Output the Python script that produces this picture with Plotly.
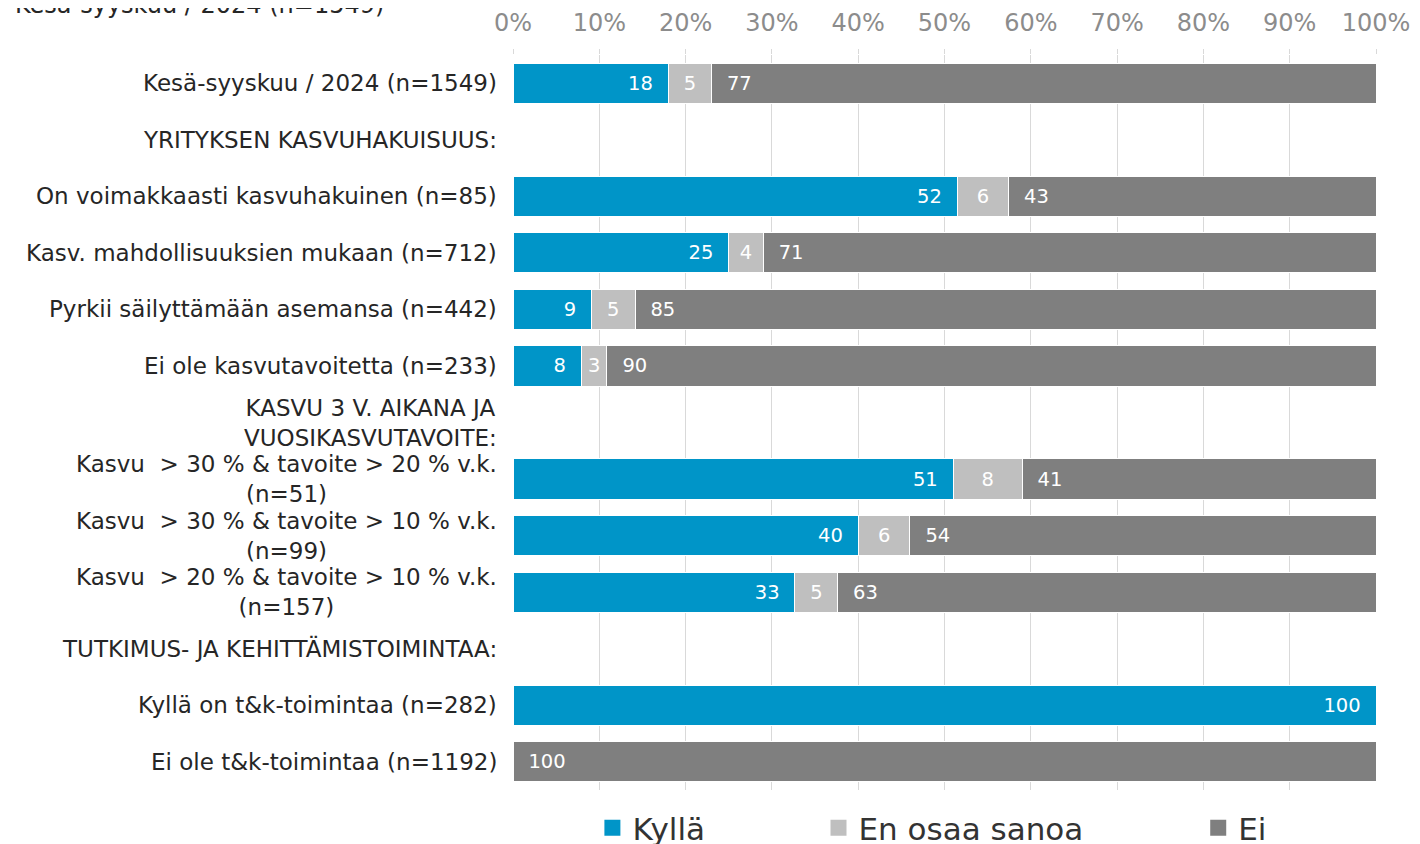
import plotly.graph_objects as go

categories = [
    "Kesä-syyskuu / 2024 (n=1549)",
    "YRITYKSEN KASVUHAKUISUUS:",
    "On voimakkaasti kasvuhakuinen (n=85)",
    "Kasv. mahdollisuuksien mukaan (n=712)",
    "Pyrkii säilyttämään asemansa (n=442)",
    "Ei ole kasvutavoitetta (n=233)",
    "KASVU 3 V. AIKANA JA<br>VUOSIKASVUTAVOITE:",
    "Kasvu\u00a0 > 30 % & tavoite > 20 % v.k.<br>(n=51)",
    "Kasvu\u00a0 > 30 % & tavoite > 10 % v.k.<br>(n=99)",
    "Kasvu\u00a0 > 20 % & tavoite > 10 % v.k.<br>(n=157)",
    "TUTKIMUS- JA KEHITTÄMISTOIMINTAA:",
    "Kyllä on t&k-toimintaa (n=282)",
    "Ei ole t&k-toimintaa (n=1192)",
]
kylla = [18, None, 52, 25, 9, 8, None, 51, 40, 33, None, 100, 0]
en_osaa = [5, None, 6, 4, 5, 3, None, 8, 6, 5, None, 0, 0]
ei = [77, None, 43, 71, 85, 90, None, 41, 54, 63, None, 0, 100]
tick_values = list(range(0, 101, 10))
tick_labels = [f"{v}%" for v in tick_values]

FONT = "DejaVu Sans"
PAD = "\u00a0\u00a0"

series = [
    ("Kyllä", kylla, "#0095c8", "end", "legend", 0.092),
    ("En osaa sanoa", en_osaa, "#bfbfbf", "middle", "legend2", 0.354),
    ("Ei", ei, "#7f7f7f", "start", "legend3", 0.794),
]

ypos = list(range(len(categories)))

fig = go.Figure()
for name, vals, color, anchor, leg, lx in series:
    txt = []
    for v in vals:
        if v is None or v == 0:
            txt.append("")
        elif anchor == "end":
            txt.append(f"{v}{PAD}")
        elif anchor == "start":
            txt.append(f"{PAD}{v}")
        else:
            txt.append(str(v))
    fig.add_trace(go.Bar(
        name=name, y=ypos, x=[0 if v is None else v for v in vals], orientation="h",
        marker=dict(color=color, line=dict(color="white", width=1)),
        text=txt, textposition="inside", insidetextanchor=anchor,
        textfont=dict(color="white", size=19.5, family=FONT),
        showlegend=False, hoverinfo="skip",
    ))
    # legend proxy with a larger square symbol
    fig.add_trace(go.Scatter(
        name=name, x=[None], y=[None], mode="markers",
        marker=dict(symbol="square", size=17, color=color),
        legend=leg, showlegend=True, hoverinfo="skip",
    ))

annotations = []
for i, c in enumerate(categories):
    annotations.append(dict(
        x=0, xref="paper", y=i, yref="y", text=c, showarrow=False,
        xanchor="right", yanchor="middle", align="center", xshift=-14,
        font=dict(size=23, color="#262626", family=FONT),
    ))
annotations.append(dict(
    x=-0.5794, xref="paper", y=1.068, yref="paper", text="Kesä-syyskuu / 2024 (n=1549)",
    showarrow=False, xanchor="left", yanchor="middle",
    font=dict(size=24, color="#262626", family=FONT),
))
annotations.append(dict(
    x=1.0475, xref="paper", y=7, yref="y", text="!", showarrow=False,
    xanchor="center", yanchor="middle", yshift=-5,
    font=dict(size=24, color="#f0607a", family=FONT),
))

layout_legends = {}
for name, vals, color, anchor, leg, lx in series:
    layout_legends[leg] = dict(
        x=lx, xref="paper", y=-0.0517, yref="paper", xanchor="left", yanchor="middle",
        orientation="h", font=dict(size=31, color="#333333", family=FONT),
        bgcolor="rgba(0,0,0,0)",
    )

fig.update_layout(
    barmode="stack", barnorm="percent", bargap=0.29,
    width=1412, height=836,
    margin=dict(l=505, r=44, t=47, b=54, autoexpand=False),
    paper_bgcolor="white", plot_bgcolor="white",
    showlegend=True,
    annotations=annotations,
    xaxis=dict(
        side="top", range=[0, 100], tickvals=tick_values, ticktext=tick_labels,
        tickfont=dict(size=24, color="#8c8c8c", family=FONT),
        showgrid=True, gridcolor="#d9d9d9", gridwidth=1, zeroline=False,
        showline=False, ticks="outside", ticklen=5, tickcolor="#d9d9d9",
        ticklabelstandoff=8, fixedrange=True,
    ),
    yaxis=dict(
        range=[12.5, -0.5], showticklabels=False, showgrid=False,
        zeroline=False, showline=False, fixedrange=True,
    ),
    **layout_legends,
)

fig.write_html("out.html")
